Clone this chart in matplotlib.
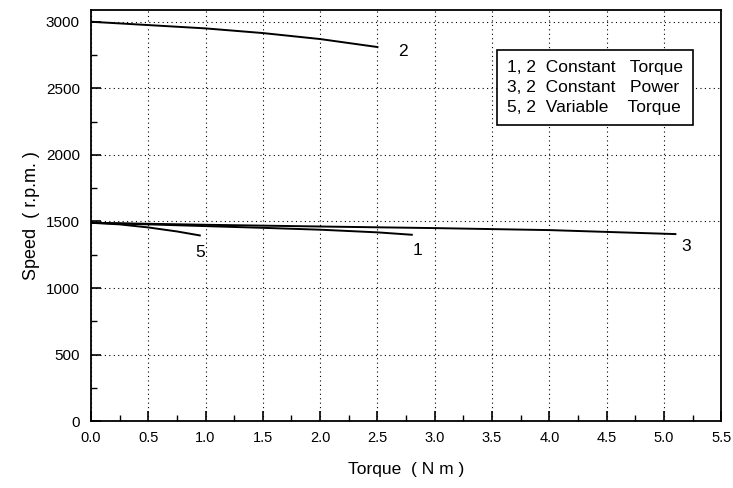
import matplotlib
matplotlib.use("Agg")
import matplotlib.pyplot as plt
from matplotlib.ticker import MultipleLocator

plt.rcParams['font.family'] = ['Liberation Sans', 'DejaVu Sans']

# Data
curve2_x = [0, 0.5, 1.0, 1.5, 2.0, 2.5]
curve2_y = [3000, 2975, 2950, 2915, 2870, 2810]
curve3_x = [0, 1.0, 2.0, 3.0, 4.0, 5.1]
curve3_y = [1490, 1475, 1462, 1450, 1435, 1405]
curve1_x = [0, 0.5, 1.0, 1.5, 2.0, 2.5, 2.8]
curve1_y = [1490, 1478, 1465, 1452, 1438, 1418, 1400]
curve5_x = [0, 0.25, 0.5, 0.75, 0.95]
curve5_y = [1490, 1478, 1455, 1425, 1395]

curve_labels = ["2", "3", "1", "5"]
label_x = [2.72, 5.19, 2.85, 0.95]
label_y = [2780, 1315, 1285, 1270]

legend_lines = ["1, 2  Constant   Torque", "3, 2  Constant   Power", "5, 2  Variable    Torque"]

fig = plt.figure(figsize=(7.33, 4.88), dpi=100)
ax = fig.add_axes([0.124, 0.137, 0.86, 0.843])

for xs, ys in [(curve2_x, curve2_y), (curve3_x, curve3_y), (curve1_x, curve1_y), (curve5_x, curve5_y)]:
    ax.plot(xs, ys, color='black', lw=1.4)

for t, x, y in zip(curve_labels, label_x, label_y):
    ax.text(x, y, t, fontsize=12.5, ha='center', va='center')

ax.set_xlim(0, 5.5)
ax.set_ylim(0, 3090)
ax.xaxis.set_major_locator(MultipleLocator(0.5))
ax.xaxis.set_minor_locator(MultipleLocator(0.25))
ax.yaxis.set_major_locator(MultipleLocator(500))
ax.yaxis.set_minor_locator(MultipleLocator(250))
ax.xaxis.set_major_formatter(matplotlib.ticker.FormatStrFormatter('%.1f'))
ax.tick_params(which='major', direction='in', length=7, width=1.2)
ax.tick_params(axis='x', which='major', pad=7, labelsize=10.5)
ax.tick_params(axis='y', which='major', pad=8, labelsize=11)
ax.tick_params(which='minor', direction='in', length=4, width=1)
ax.tick_params(top=False, right=False)
ax.grid(True, which='major', linestyle=(0, (1, 3)), color='black', lw=0.8)

for s in ax.spines.values():
    s.set_linewidth(1.3)

ax.set_xlabel("Torque  ( N m )", fontsize=12.5, labelpad=12)
ax.set_ylabel("Speed  ( r.p.m. )", fontsize=13, labelpad=4)

ax.text(0.66, 0.811, "\n".join(legend_lines), transform=ax.transAxes, fontsize=12.5,
        va='center', ha='left', linespacing=1.4,
        bbox=dict(boxstyle='square,pad=0.6', facecolor='white', edgecolor='black', lw=1.2))

fig.savefig("out.png", dpi=100)
